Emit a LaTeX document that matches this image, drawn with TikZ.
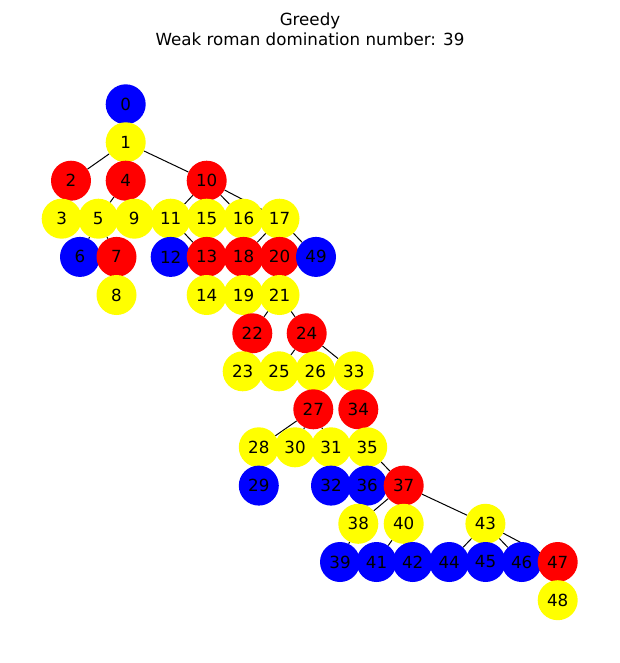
\documentclass[tikz,border=0pt]{standalone}
\usepackage{fontspec}
\setmainfont{DejaVu Sans}
\usetikzlibrary{backgrounds}
\definecolor{vBlue}{RGB}{0,0,255}
\definecolor{vRed}{RGB}{255,0,0}
\definecolor{vYellow}{RGB}{255,255,0}
\tikzset{%
  % Specifications for style of vertices:
     vertex/.style = {circle, draw=none, minimum size=40pt, inner sep=0pt,
                      font=\fontsize{16.7}{20}\selectfont},
   zeroVtx/.style = {vertex, fill=vBlue},
    twoVtx/.style = {vertex, fill=vRed},
    oneVtx/.style = {vertex, fill=vYellow},
  treeEdge/.style = {draw=black, line width=1pt},
}

\begin{document}
\begin{tikzpicture}[x=1pt, y=-1pt,
    every node/.style={font=\fontsize{16.7}{20}\selectfont}]
    \useasboundingbox (0,0) rectangle (619,663);

    \node (title) [anchor=base] at (310,26) {Greedy};
    \node (subtitle) [anchor=base] at (310,46) {Weak roman domination number: 39};

    % top of the tree
    \node (v0) [zeroVtx] at (125.7,104.3) {0};
    \node (v1) [oneVtx] at (125.7,142.3) {1};
    \node (v2) [twoVtx] at (71,180.7) {2};
    \node (v4) [twoVtx] at (125.7,180.7) {4};
    \node (v10) [twoVtx] at (206.7,180.7) {10};
    \node (v3) [oneVtx] at (61.7,218.7) {3};
    \node (v5) [oneVtx] at (98.3,218.7) {5};
    \node (v9) [oneVtx] at (134.3,218.7) {9};
    \node (v11) [oneVtx] at (170.7,218.7) {11};
    \node (v15) [oneVtx] at (206.7,218.7) {15};
    \node (v16) [oneVtx] at (243.5,218.7) {16};
    \node (v17) [oneVtx] at (279.5,218.7) {17};
    \node (v6) [zeroVtx] at (80,256.9) {6};
    \node (v7) [twoVtx] at (116.5,256.9) {7};
    \node (v12) [zeroVtx] at (170.7,256.9) {12};
    \node (v13) [twoVtx] at (206.7,256.9) {13};
    \node (v18) [twoVtx] at (243.5,256.9) {18};
    \node (v20) [twoVtx] at (279.5,256.9) {20};
    \node (v49) [zeroVtx] at (316,256.9) {49};
    \node (v8) [oneVtx] at (116.5,295) {8};
    \node (v14) [oneVtx] at (206.7,295) {14};
    \node (v19) [oneVtx] at (243.5,295) {19};
    \node (v21) [oneVtx] at (279.5,295) {21};

    % middle
    \node (v22) [twoVtx] at (252.3,333.3) {22};
    \node (v24) [twoVtx] at (306.7,333.3) {24};
    \node (v23) [oneVtx] at (242.7,371.3) {23};
    \node (v25) [oneVtx] at (279,371.3) {25};
    \node (v26) [oneVtx] at (315.3,371.3) {26};
    \node (v33) [oneVtx] at (353.8,371.3) {33};
    \node (v27) [twoVtx] at (313.3,409.3) {27};
    \node (v34) [twoVtx] at (358.3,409.3) {34};
    \node (v28) [oneVtx] at (258.8,447.3) {28};
    \node (v30) [oneVtx] at (295,447.3) {30};
    \node (v31) [oneVtx] at (331,447.3) {31};
    \node (v35) [oneVtx] at (367.2,447.3) {35};
    \node (v29) [zeroVtx] at (258.8,485.6) {29};
    \node (v32) [zeroVtx] at (331,485.6) {32};
    \node (v36) [zeroVtx] at (367.2,485.6) {36};
    \node (v37) [twoVtx] at (403.7,485.6) {37};

    % bottom
    \node (v38) [oneVtx] at (358.3,523.8) {38};
    \node (v40) [oneVtx] at (403.7,523.8) {40};
    \node (v43) [oneVtx] at (485.4,523.8) {43};
    \node (v39) [zeroVtx] at (340,562) {39};
    \node (v41) [zeroVtx] at (376.5,562) {41};
    \node (v42) [zeroVtx] at (412.7,562) {42};
    \node (v44) [zeroVtx] at (449.2,562) {44};
    \node (v45) [zeroVtx] at (485.6,562) {45};
    \node (v46) [zeroVtx] at (521.7,562) {46};
    \node (v47) [twoVtx] at (557.7,562) {47};
    \node (v48) [oneVtx] at (557.7,600.2) {48};

    \begin{scope}[on background layer]
      \foreach \a/\b in {0/1,1/2,1/4,1/10,2/3,4/5,4/9,5/6,5/7,7/8,
                         10/11,10/15,10/16,10/17,11/12,11/13,13/14,
                         17/18,17/20,17/49,18/19,20/21,21/22,21/24,22/23,
                         24/25,24/26,24/33,26/27,27/28,27/30,27/31,28/29,31/32,
                         33/34,34/35,35/36,35/37,37/38,37/40,37/43,38/39,
                         40/41,40/42,43/44,43/45,43/46,43/47,47/48}
        \draw [treeEdge] (v\a) -- (v\b);
    \end{scope}
\end{tikzpicture}
\end{document}
